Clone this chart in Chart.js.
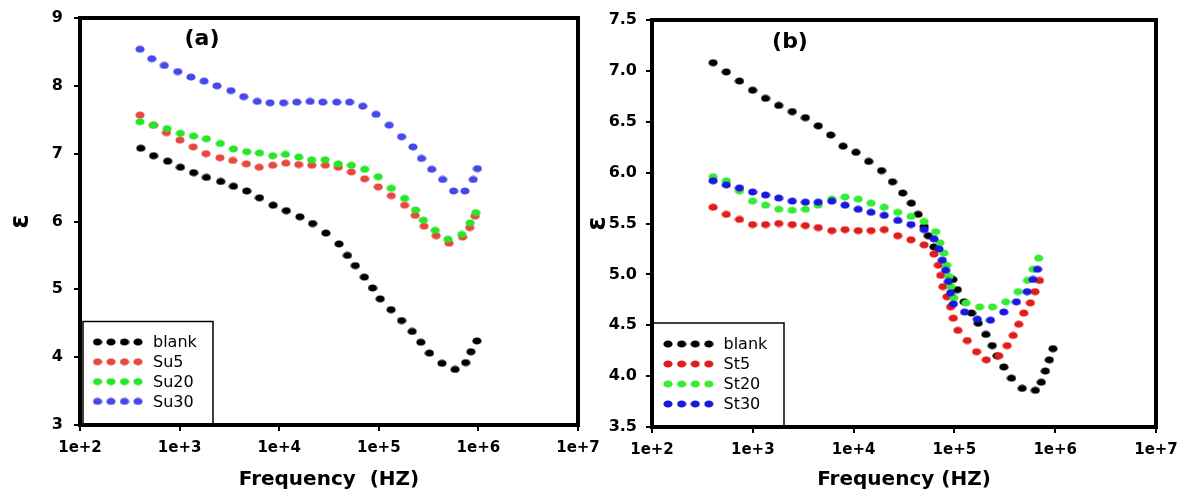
<!DOCTYPE html>
<html>
<head>
<meta charset="utf-8">
<script src="https://cdn.jsdelivr.net/npm/chart.js@4/dist/chart.umd.min.js"></script>
<style>
  html, body { margin: 0; padding: 0; background: #fff; }
  #wrap { position: relative; width: 1183px; height: 495px; overflow: hidden; }
  canvas { position: absolute; top: 0; }
  #chartA { left: 0; }
  #chartB { left: 585px; }
</style>
</head>
<body>
<div id="wrap">
  <canvas id="chartA" width="630" height="495"></canvas>
  <canvas id="chartB" width="598" height="495"></canvas>
</div>
<script>
// x values are log10(frequency / Hz), the axis is labelled 1e+2 ... 1e+7
const freqTickExp = [2, 3, 4, 5, 6, 7];
const freqTickLabels = ['1e+2', '1e+3', '1e+4', '1e+5', '1e+6', '1e+7'];
const epsTicksA = [3, 4, 5, 6, 7, 8, 9];
const epsTicksB = [3.5, 4.0, 4.5, 5.0, 5.5, 6.0, 6.5, 7.0, 7.5];

const namesA = ['blank', 'Su5', 'Su20', 'Su30'];
const namesB = ['blank', 'St5', 'St20', 'St30'];

// ---- panel (a) ----
const aBlankLogF = [2.610, 2.739, 2.880, 3.008, 3.141, 3.269, 3.413, 3.541, 3.674, 3.802, 3.939, 4.071, 4.208, 4.336, 4.469, 4.601,
  4.685, 4.764, 4.855, 4.938, 5.014, 5.123, 5.229, 5.335, 5.422, 5.509, 5.634, 5.766, 5.872, 5.925, 5.985];
const aBlankEps = [7.08, 6.97, 6.89, 6.80, 6.72, 6.65, 6.59, 6.52, 6.45, 6.35, 6.24, 6.16, 6.07, 5.97, 5.83, 5.67,
  5.50, 5.35, 5.18, 5.02, 4.86, 4.70, 4.54, 4.38, 4.22, 4.06, 3.91, 3.82, 3.92, 4.08, 4.24];

const aSu5LogF = [2.603, 2.739, 2.868, 3.004, 3.136, 3.265, 3.405, 3.534, 3.670, 3.799, 3.935, 4.067, 4.196, 4.328, 4.464, 4.593,
  4.725, 4.858, 4.994, 5.126, 5.259, 5.365, 5.455, 5.576, 5.705, 5.841, 5.913, 5.966];
const aSu5Eps = [7.57, 7.42, 7.31, 7.20, 7.10, 7.00, 6.94, 6.90, 6.85, 6.80, 6.83, 6.86, 6.84, 6.83, 6.83, 6.80,
  6.73, 6.63, 6.51, 6.38, 6.24, 6.09, 5.93, 5.79, 5.68, 5.77, 5.91, 6.08];

const aSu20LogF = [2.603, 2.735, 2.875, 3.008, 3.140, 3.269, 3.409, 3.541, 3.674, 3.802, 3.935, 4.063, 4.196, 4.325, 4.461, 4.593,
  4.725, 4.858, 4.994, 5.126, 5.259, 5.369, 5.448, 5.566, 5.694, 5.834, 5.917, 5.974];
const aSu20Eps = [7.47, 7.42, 7.37, 7.30, 7.26, 7.22, 7.15, 7.07, 7.03, 7.01, 6.97, 6.99, 6.95, 6.91, 6.91, 6.85,
  6.83, 6.77, 6.66, 6.49, 6.34, 6.17, 6.02, 5.87, 5.74, 5.81, 5.98, 6.13];

const aSu30LogF = [2.603, 2.721, 2.846, 2.982, 3.114, 3.246, 3.375, 3.515, 3.644, 3.780, 3.908, 4.044, 4.177, 4.310, 4.438, 4.578,
  4.707, 4.839, 4.972, 5.104, 5.229, 5.343, 5.429, 5.531, 5.641, 5.751, 5.865, 5.948, 5.990];
const aSu30Eps = [8.54, 8.40, 8.30, 8.21, 8.13, 8.07, 8.00, 7.93, 7.84, 7.77, 7.75, 7.75, 7.76, 7.77, 7.76, 7.76,
  7.76, 7.70, 7.58, 7.42, 7.25, 7.10, 6.93, 6.77, 6.62, 6.45, 6.45, 6.62, 6.78];

// ---- panel (b) ----
const bBlankLogF = [2.606, 2.737, 2.868, 2.998, 3.126, 3.257, 3.391, 3.522, 3.649, 3.773, 3.896, 4.023, 4.150, 4.278, 4.386, 4.487,
  4.573, 4.640, 4.700, 4.741, 4.797, 4.985, 5.029, 5.096, 5.170, 5.236, 5.312, 5.375, 5.424, 5.490, 5.566, 5.672,
  5.803, 5.862, 5.902, 5.942, 5.978];
const bBlankEps = [7.08, 6.99, 6.90, 6.81, 6.73, 6.66, 6.60, 6.54, 6.46, 6.37, 6.26, 6.20, 6.11, 6.02, 5.91, 5.80,
  5.70, 5.59, 5.47, 5.38, 5.27, 4.95, 4.85, 4.73, 4.62, 4.52, 4.41, 4.30, 4.20, 4.09, 3.98, 3.88,
  3.86, 3.94, 4.05, 4.16, 4.27];

const bSt5LogF = [2.606, 2.737, 2.868, 2.998, 3.126, 3.257, 3.391, 3.522, 3.649, 3.784, 3.915, 4.046, 4.173, 4.304, 4.438, 4.569,
  4.700, 4.797, 4.841, 4.864, 4.886, 4.926, 4.962, 4.989, 5.035, 5.128, 5.220, 5.316, 5.440, 5.523, 5.583, 5.638,
  5.688, 5.754, 5.800, 5.844];
const bSt5Eps = [5.66, 5.59, 5.54, 5.49, 5.49, 5.50, 5.49, 5.48, 5.46, 5.43, 5.44, 5.43, 5.43, 5.44, 5.38, 5.34,
  5.29, 5.20, 5.09, 4.99, 4.88, 4.78, 4.68, 4.57, 4.45, 4.35, 4.24, 4.16, 4.20, 4.30, 4.40, 4.51,
  4.62, 4.72, 4.83, 4.94];

const bSt20LogF = [2.606, 2.737, 2.868, 2.998, 3.126, 3.257, 3.391, 3.522, 3.649, 3.784, 3.915, 4.046, 4.173, 4.304, 4.438, 4.569,
  4.700, 4.814, 4.857, 4.896, 4.923, 4.946, 4.965, 4.995, 5.116, 5.250, 5.378, 5.510, 5.632, 5.725, 5.780, 5.835];
const bSt20Eps = [5.96, 5.92, 5.82, 5.72, 5.68, 5.64, 5.63, 5.64, 5.68, 5.74, 5.76, 5.74, 5.70, 5.66, 5.61, 5.57,
  5.52, 5.42, 5.31, 5.21, 5.09, 4.98, 4.88, 4.77, 4.72, 4.68, 4.68, 4.73, 4.83, 4.94, 5.05, 5.16];

const bSt30LogF = [2.606, 2.737, 2.868, 2.998, 3.126, 3.257, 3.391, 3.522, 3.649, 3.784, 3.915, 4.046, 4.173, 4.304, 4.438, 4.569,
  4.700, 4.797, 4.847, 4.880, 4.913, 4.940, 4.962, 4.990, 5.101, 5.227, 5.358, 5.490, 5.615, 5.721, 5.780, 5.825];
const bSt30Eps = [5.92, 5.88, 5.85, 5.81, 5.78, 5.75, 5.72, 5.71, 5.71, 5.72, 5.68, 5.64, 5.61, 5.58, 5.53, 5.49,
  5.44, 5.35, 5.25, 5.14, 5.04, 4.93, 4.82, 4.71, 4.63, 4.56, 4.55, 4.63, 4.73, 4.83, 4.95, 5.05];

const colorsA = ['#000000', '#E9483F', '#27E527', '#4848EA'];
const colorsB = ['#000000', '#E41B1B', '#33EC33', '#1818DE'];

// markers in the original are slightly wide ellipses
function dotImage(color) {
    const c = document.createElement('canvas');
    c.width = 10;
    c.height = 8;
    const g = c.getContext('2d');
    g.fillStyle = color;
    g.beginPath();
    g.ellipse(5, 4, 4.6, 3.6, 0, 0, Math.PI * 2);
    g.fill();
    return c;
}

function makeDataset(label, logF, eps, color, order) {
    return {
        label: label,
        data: logF.map((x, i) => ({ x: x, y: eps[i] })),
        pointStyle: dotImage(color),
        pointRadius: 4,
        backgroundColor: color,
        borderColor: color,
        showLine: false,
        order: order
    };
}

const FONT = '"DejaVu Sans", "Liberation Sans", Arial, sans-serif';

// frame, panel letter and the in-plot legend
const panelDeco = {
    id: 'panelDeco',
    afterDraw(chart, args, opts) {
        const ctx = chart.ctx;
        const a = chart.chartArea;
        ctx.save();

        // legend box
        const lg = opts.legend;
        const bx = a.left + lg.x0;
        const by = a.bottom - lg.height;
        ctx.fillStyle = '#fff';
        ctx.fillRect(bx, by, lg.width, lg.height);
        ctx.strokeStyle = '#000';
        ctx.lineWidth = 1.5;
        ctx.strokeRect(bx, by, lg.width, lg.height);
        ctx.font = '16px ' + FONT;
        ctx.textBaseline = 'middle';
        ctx.textAlign = 'left';
        ctx.fillStyle = '#000';
        chart.data.datasets.forEach((ds, i) => {
            const y = by + lg.rowY + i * lg.rowStep;
            for (let k = 0; k < 4; k++) {
                const img = ds.pointStyle;
                ctx.drawImage(img, bx + lg.dotX + k * lg.dotStep - img.width / 2, y - img.height / 2);
            }
            ctx.fillText(ds.label, bx + lg.textX, y + 1);
        });

        // heavy frame round the plot
        ctx.strokeStyle = '#000';
        ctx.lineWidth = 4;
        ctx.strokeRect(a.left, a.top, a.right - a.left, a.bottom - a.top);

        // panel letter
        ctx.font = 'bold 22px ' + FONT;
        ctx.textAlign = 'center';
        ctx.textBaseline = 'middle';
        ctx.fillText(opts.label, a.left + opts.labelDx, a.top + opts.labelDy);
        ctx.restore();
    }
};

function buildChart(canvasId, datasets, cfg) {
    return new Chart(document.getElementById(canvasId), {
        type: 'scatter',
        data: { datasets: datasets },
        options: {
            responsive: false,
            animation: false,
            events: [],
            layout: { padding: cfg.padding },
            plugins: {
                legend: { display: false },
                tooltip: { enabled: false },
                panelDeco: cfg.deco
            },
            scales: {
                x: {
                    type: 'linear',
                    min: 2,
                    max: 7,
                    afterBuildTicks: (axis) => { axis.ticks = freqTickExp.map(v => ({ value: v })); },
                    afterFit: (s) => { s.height = cfg.xHeight; s.paddingLeft = 0; s.paddingRight = 0; },
                    ticks: {
                        autoSkip: false,
                        maxRotation: 0,
                        padding: 8,
                        color: '#000',
                        font: { family: FONT, weight: 'bold', size: 15 },
                        callback: (v, i) => freqTickLabels[i]
                    },
                    grid: { drawOnChartArea: false, drawTicks: true, tickLength: 6, color: '#000', lineWidth: 2 },
                    border: { display: false },
                    title: {
                        display: true,
                        text: cfg.xTitle,
                        color: '#000',
                        font: { family: FONT, weight: 'bold', size: 20 },
                        padding: { top: 0, bottom: 3 }
                    }
                },
                y: {
                    type: 'linear',
                    min: cfg.yTicks[0],
                    max: cfg.yTicks[cfg.yTicks.length - 1],
                    afterBuildTicks: (axis) => { axis.ticks = cfg.yTicks.map(v => ({ value: v })); },
                    afterFit: (s) => { s.width = cfg.yWidth; s.paddingTop = 0; s.paddingBottom = 0; },
                    ticks: {
                        padding: cfg.yTickPad,
                        color: '#000',
                        font: { family: FONT, weight: 'bold', size: 16 },
                        callback: (v) => cfg.yFormat(v)
                    },
                    grid: { drawOnChartArea: false, drawTicks: true, tickLength: 6, color: '#000', lineWidth: 2 },
                    border: { display: false },
                    title: {
                        display: true,
                        text: 'ε',
                        color: '#000',
                        font: { family: FONT, weight: 'bold', size: 26, lineHeight: 1 },
                        padding: { top: cfg.yTitlePad, bottom: 0 }
                    }
                }
            }
        },
        plugins: [panelDeco]
    });
}

document.addEventListener('DOMContentLoaded', function() {
    buildChart('chartA', [
        makeDataset(namesA[0], aBlankLogF, aBlankEps, colorsA[0], 4),
        makeDataset(namesA[1], aSu5LogF, aSu5Eps, colorsA[1], 3),
        makeDataset(namesA[2], aSu20LogF, aSu20Eps, colorsA[2], 2),
        makeDataset(namesA[3], aSu30LogF, aSu30Eps, colorsA[3], 1)
    ], {
        padding: { left: 0, right: 52, top: 18, bottom: 0 },
        xHeight: 70,
        yWidth: 80,
        yTicks: epsTicksA,
        yFormat: (v) => String(v),
        yTickPad: 11,
        yTitlePad: 8,
        xTitle: 'Frequency  (HZ)',
        deco: {
            label: '(a)', labelDx: 122, labelDy: 21,
            legend: { x0: 3, width: 130, height: 103.5, dotX: 14.5, dotStep: 13.5, textX: 70, rowY: 20.5, rowStep: 19.8 }
        }
    });

    buildChart('chartB', [
        makeDataset(namesB[0], bBlankLogF, bBlankEps, colorsB[0], 4),
        makeDataset(namesB[1], bSt5LogF, bSt5Eps, colorsB[1], 3),
        makeDataset(namesB[2], bSt20LogF, bSt20Eps, colorsB[2], 2),
        makeDataset(namesB[3], bSt30LogF, bSt30Eps, colorsB[3], 1)
    ], {
        padding: { left: 0, right: 27, top: 20, bottom: 0 },
        xHeight: 68,
        yWidth: 67,
        yTicks: epsTicksB,
        yFormat: (v) => v.toFixed(1),
        yTickPad: 9,
        yTitlePad: 0,
        xTitle: 'Frequency (HZ)',
        deco: {
            label: '(b)', labelDx: 138, labelDy: 22,
            legend: { x0: 0, width: 132, height: 104, dotX: 16, dotStep: 13.6, textX: 71.5, rowY: 21, rowStep: 20 }
        }
    });
});
</script>
</body>
</html>
